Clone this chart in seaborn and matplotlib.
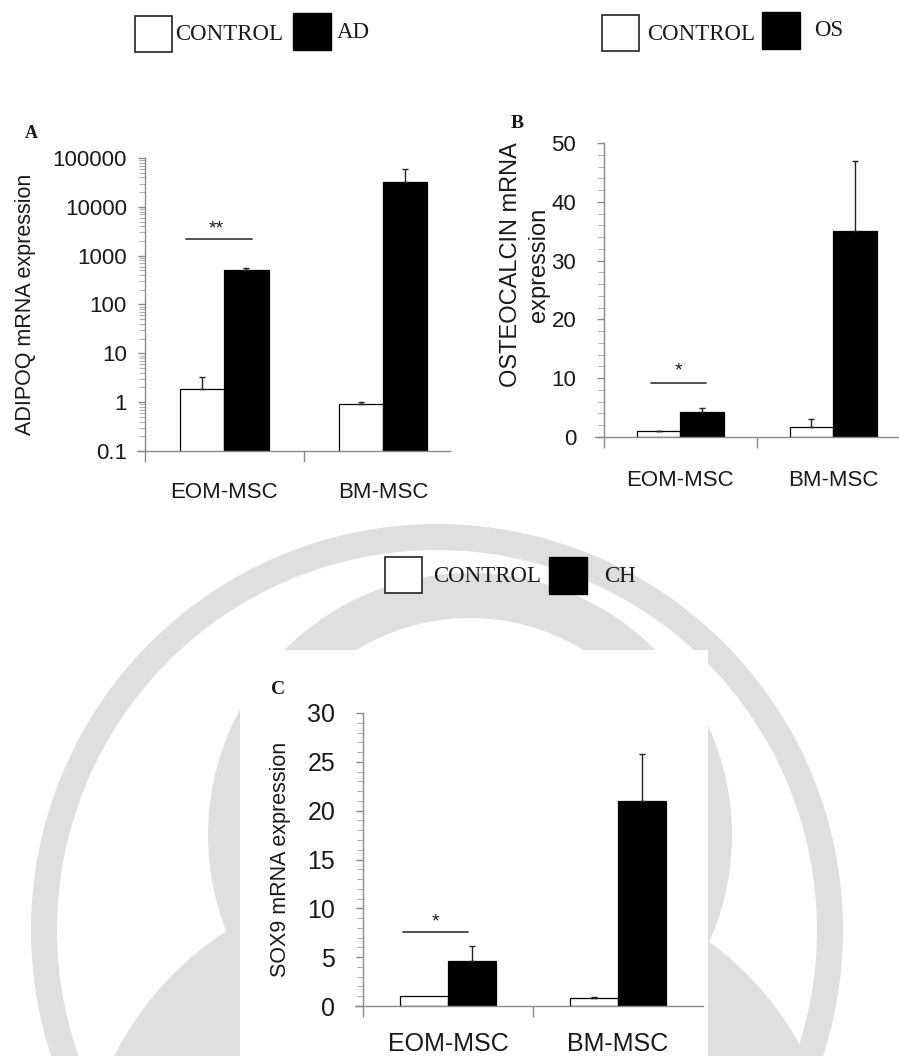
import matplotlib
matplotlib.use('Agg')
import matplotlib.pyplot as plt
import seaborn as sns
import pandas as pd
from matplotlib.patches import Rectangle, Wedge, Circle
from matplotlib.ticker import MultipleLocator, LogLocator, FixedLocator, NullFormatter

# ---------------- data ----------------
groups = ['EOM-MSC', 'BM-MSC']

adipoq_control = [1.9, 0.93]
adipoq_control_err = [1.3, 0.08]
adipoq_ad = [510, 31600]
adipoq_ad_err = [50, 27000]

osteo_control = [1.0, 1.7]
osteo_control_err = [0.1, 1.4]
osteo_os = [4.3, 35.0]
osteo_os_err = [0.6, 12.0]

sox9_control = [1.0, 0.8]
sox9_control_err = [0.0, 0.1]
sox9_ch = [4.6, 21.0]
sox9_ch_err = [1.5, 4.8]

W, H = 899, 1056
sns.set_theme(style='white')
plt.rcParams['font.family'] = ['Liberation Sans', 'DejaVu Sans']
SERIF = ['Liberation Serif', 'DejaVu Serif']
AXC = '#8a8a8a'
TXT = '#1a1a1a'

fig = plt.figure(figsize=(W / 100, H / 100), dpi=100)
fig.patch.set_facecolor('white')

# ---------------- background (watermark + panel C card) ----------------
bg = fig.add_axes([0, 0, 1, 1], zorder=-10)
bg.set_xlim(0, W)
bg.set_ylim(H, 0)
bg.axis('off')
WM = '#dfdfdf'
bg.add_patch(Wedge((437, 930), 406, 0, 360, width=26, facecolor=WM, edgecolor='none', zorder=1))
bg.add_patch(Wedge((470, 835), 262, 0, 360, width=45, facecolor=WM, edgecolor='none', zorder=1))
bg.add_patch(Circle((400, 1200), 320, facecolor=WM, edgecolor='none', zorder=1))
bg.add_patch(Circle((520, 1200), 320, facecolor=WM, edgecolor='none', zorder=1))
bg.add_patch(Rectangle((240, 650), 468, 410, facecolor='white', edgecolor='none', zorder=3))


def legend(x_w, y_w, x_t1, x_b, y_b, x_t2, name, size=16.5):
    bg.add_patch(Rectangle((x_w, y_w), 37, 36, facecolor='white', edgecolor='#222', lw=1.2, zorder=6))
    bg.text(x_t1, y_w + 19, 'CONTROL', family=SERIF, fontsize=size, color=TXT, va='center', ha='left', zorder=6)
    bg.add_patch(Rectangle((x_b, y_b), 38, 37, facecolor='black', edgecolor='black', lw=1, zorder=6))
    bg.text(x_t2, y_b + 19, name, family=SERIF, fontsize=size, color=TXT, va='center', ha='left', zorder=6)


legend(135, 16, 175, 293, 13, 337, 'AD')
legend(602, 15, 647, 762, 12, 814, 'OS')
legend(385, 557, 433, 549, 557, 604, 'CH')

bg.text(25, 133, 'A', family=SERIF, fontsize=13, fontweight='bold', va='center', ha='left', color=TXT)
bg.text(511, 124, 'B', family=SERIF, fontsize=14, fontweight='bold', va='center', ha='left', color=TXT)
bg.text(271, 690, 'C', family=SERIF, fontsize=14, fontweight='bold', va='center', ha='left', color=TXT)


def px_axes(l, r, top, bottom):
    return fig.add_axes([l / W, 1 - bottom / H, (r - l) / W, (bottom - top) / H], zorder=5)


def panel(box, ctrl, ctrl_err, trt, trt_err, trt_name, ylim, xlim, width, ylabel,
          label_xy, tick_fs, xtick_fs, label_fs, ypad, xpad, log=False, minor=None, yticks=None):
    ax = px_axes(*box)
    ax.patch.set_alpha(0)
    df = pd.DataFrame({
        'group': groups * 2,
        'condition': ['CONTROL'] * 2 + [trt_name] * 2,
        'value': ctrl + trt,
    })
    if log:
        ax.set_yscale('log')
    sns.barplot(data=df, x='group', y='value', hue='condition', palette=['white', 'black'],
                saturation=1, edgecolor='black', linewidth=0.9, width=width,
                errorbar=None, legend=False, ax=ax)
    for cont, errs in zip(ax.containers, [ctrl_err, trt_err]):
        for bar, e in zip(cont, errs):
            if e <= 0:
                continue
            xc = bar.get_x() + bar.get_width() / 2
            ax.errorbar(xc, bar.get_height(), yerr=[[0], [e]], fmt='none', ecolor='#222',
                        elinewidth=1.0, capsize=2.5, capthick=1.0, zorder=4)
    ax.set_xlim(*xlim)
    ax.set_ylim(*ylim)
    sns.despine(ax=ax)
    ax.spines['left'].set_position(('data', -0.5))
    for s in ('left', 'bottom'):
        ax.spines[s].set_color(AXC)
        ax.spines[s].set_linewidth(1.0)
    if yticks is not None:
        ax.set_yticks(yticks)
        if log:
            ax.set_yticklabels([('%g' % v) if v < 1 else str(int(v)) for v in yticks])
    if log:
        ax.yaxis.set_minor_locator(LogLocator(base=10, subs=range(2, 10), numticks=20))
    elif minor:
        ax.yaxis.set_minor_locator(MultipleLocator(minor))
    ax.yaxis.set_minor_formatter(NullFormatter())
    ax.tick_params(axis='y', which='major', direction='out', length=5, width=1, color=AXC,
                   labelsize=tick_fs, labelcolor=TXT, pad=ypad, left=True)
    ax.tick_params(axis='y', which='minor', direction='out', length=4, width=0.8, color='#b0b0b0', left=True)
    ax.set_xticks([0, 1])
    ax.set_xticklabels(groups)
    ax.xaxis.set_minor_locator(FixedLocator([-0.5, 0.5]))
    ax.tick_params(axis='x', which='major', length=0, labelsize=xtick_fs, labelcolor=TXT, pad=xpad)
    ax.tick_params(axis='x', which='minor', direction='out', length=8, width=1, color=AXC, bottom=True)
    ax.set_xlabel('')
    ax.set_ylabel(ylabel, fontsize=label_fs, color=TXT, linespacing=1.35)
    ax.yaxis.label.set_va('center')
    ax.yaxis.set_label_coords(*label_xy)
    ax.grid(False)
    return ax


# Panel A
axA = panel((137, 450, 158, 451), adipoq_control, adipoq_control_err, adipoq_ad, adipoq_ad_err, 'AD',
            ylim=(0.1, 100000), xlim=(-0.5 - 8 / 159, 1.42), width=0.555,
            ylabel='ADIPOQ mRNA expression', label_xy=(-0.355, 0.5),
            tick_fs=16, xtick_fs=16, label_fs=15.5, ypad=8, xpad=22, log=True,
            yticks=[0.1, 1, 10, 100, 1000, 10000, 100000])
axA.plot([-0.245, 0.176], [2200, 2200], color='#333', lw=1.2)
axA.text(-0.05, 3600, '**', fontsize=14, ha='center', va='center', color=TXT)

# Panel B
axB = panel((595, 899, 143, 437), osteo_control, osteo_control_err, osteo_os, osteo_os_err, 'OS',
            ylim=(0, 50), xlim=(-0.5 - 9 / 153, 1.43), width=0.57,
            ylabel='OSTEOCALCIN mRNA\nexpression', label_xy=(-0.23, 0.585),
            tick_fs=16, xtick_fs=16, label_fs=17, ypad=15, xpad=24, minor=2,
            yticks=[0, 10, 20, 30, 40, 50])
axB.plot([-0.19, 0.17], [9.2, 9.2], color='#333', lw=1.2)
axB.text(-0.01, 11.2, '*', fontsize=14, ha='center', va='center', color=TXT)

# Panel C
axC = panel((355, 703, 713, 1006), sox9_control, sox9_control_err, sox9_ch, sox9_ch_err, 'CH',
            ylim=(0, 30), xlim=(-0.5 - 8 / 170, 1.5), width=0.565,
            ylabel='SOX9 mRNA expression', label_xy=(-0.215, 0.5),
            tick_fs=18, xtick_fs=18, label_fs=15.5, ypad=15, xpad=19, minor=1,
            yticks=[0, 5, 10, 15, 20, 25, 30])
axC.plot([-0.265, 0.118], [7.6, 7.6], color='#333', lw=1.2)
axC.text(-0.076, 8.6, '*', fontsize=14, ha='center', va='center', color=TXT)

fig.savefig('out.png', dpi=100, facecolor='white')
